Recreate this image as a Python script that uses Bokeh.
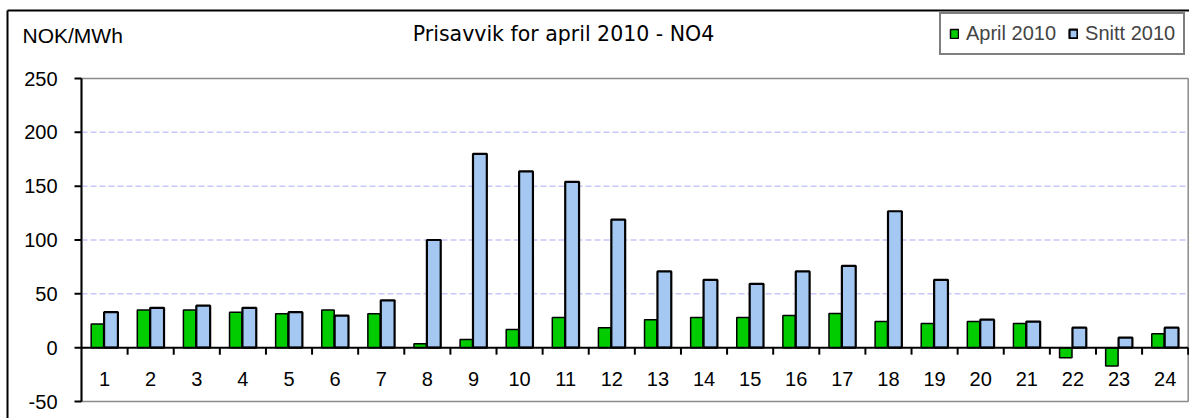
from bokeh.plotting import figure
from bokeh.models import ColumnDataSource, Legend, LegendItem, Label, Range1d
from bokeh.embed import file_html
from bokeh.resources import INLINE
from bokeh.core.properties import value

# ---- data ----
hours = list(range(1, 25))
hour_labels = [str(h) for h in hours]
april_2010 = [22, 35, 35, 33, 31.5, 35, 31.5, 3.7, 7.5, 16.8, 28, 18.6,
              26, 28, 28, 29.8, 31.7, 24.2, 22.4, 24.2, 22.4, -9.3, -17, 13]
snitt_2010 = [33, 37, 39, 37, 33, 29.8, 44, 100, 180, 163.7, 154, 119,
              70.8, 63, 59.3, 70.8, 76, 126.7, 63, 26, 24.2, 18.6, 9.3, 18.6]
y_ticks = [-50, 0, 50, 100, 150, 200, 250]
y_grid = [50, 100, 150, 200]
y_min, y_max = -50, 250

FONT = "Liberation Sans"
W, H = 1189, 418

# pixel geometry of the plot area inside the canvas
PA_L, PA_R, PA_T, PA_B = 81.0, 1187.7, 78.0, 401.0
n = len(hours)
x_lo, x_hi = 0.5, n + 0.5
PXX = (PA_R - PA_L) / (x_hi - x_lo)
PXY = (PA_B - PA_T) / (y_max - y_min)


def dx(px):
    return x_lo + (px - PA_L) / PXX


def dy(py):
    return y_max - (py - PA_T) / PXY


p = figure(width=W, height=H, output_backend="svg", toolbar_location=None,
           x_range=Range1d(dx(0), dx(W)), y_range=Range1d(dy(H), dy(0)),
           x_axis_location=None, y_axis_location=None, min_border=0)
p.outline_line_color = None
p.grid.visible = False
p.background_fill_color = "white"
p.border_fill_color = "white"

# outer chart border (only left and top edges fall inside the picture)
p.segment(x0=[dx(7), dx(7)], y0=[dy(10), dy(10)], x1=[dx(W + 20), dx(7)],
          y1=[dy(10), dy(H + 20)], line_color="black", line_width=2)

# plot-area border (grey)
p.quad(left=[x_lo], right=[x_hi], bottom=[y_min], top=[y_max], fill_color=None,
       line_color="#8c8c8c", line_width=1.5)

# gridlines
p.segment(x0=[x_lo] * len(y_grid), x1=[x_hi] * len(y_grid), y0=y_grid, y1=y_grid,
          line_color="#c8c8f8", line_width=1.5, line_dash="6 3")

src = ColumnDataSource(dict(
    x_green=[h - 0.155 for h in hours],
    x_blue=[h + 0.14 for h in hours],
    april=april_2010, snitt=snitt_2010,
))

r_green = p.vbar(x="x_green", top="april", bottom=0, width=0.27, source=src,
                 fill_color="#00cc00", line_color="black", line_width=1.5)
r_blue = p.vbar(x="x_blue", top="snitt", bottom=0, width=0.30, source=src,
                fill_color="#a4c8f2", line_color="black", line_width=2.2)

# y axis drawn by hand
tick_len = 7 / PXX
p.segment(x0=[x_lo], x1=[x_lo], y0=[y_min], y1=[y_max], line_color="black", line_width=2)
p.segment(x0=[x_lo - tick_len] * len(y_ticks), x1=[x_lo] * len(y_ticks),
          y0=y_ticks, y1=y_ticks, line_color="black", line_width=2)
p.text(x=[dx(57)] * len(y_ticks), y=y_ticks, text=[str(t) for t in y_ticks],
       text_align="right", text_baseline="middle", text_font=value(FONT),
       text_font_size="20px", text_color="black")

# zero line with category separators
p.segment(x0=[x_lo], x1=[x_hi], y0=[0], y1=[0], line_color="black", line_width=2)
bounds = [h + 0.5 for h in hours]
sep_len = 7 / PXY
p.segment(x0=bounds, x1=bounds, y0=[0] * n, y1=[-sep_len] * n,
          line_color="black", line_width=2)

# category labels
p.text(x=hours, y=[dy(378.5)] * n, text=hour_labels, text_align="center",
       text_baseline="middle", text_font=value(FONT), text_font_size="20px",
       text_color="black")

# texts above the plot area
p.add_layout(Label(x=dx(22), y=dy(35), text="NOK/MWh", text_font=FONT,
                   text_font_size="21px", text_baseline="middle", text_align="left",
                   text_color="black"))
p.add_layout(Label(x=dx(563), y=dy(33), text="Prisavvik for april 2010 - NO4",
                   text_font="DejaVu Sans", text_font_size="20.5px",
                   text_baseline="middle", text_align="center", text_color="black"))

legend = Legend(items=[LegendItem(label="April 2010", renderers=[r_green]),
                       LegendItem(label="Snitt 2010", renderers=[r_blue])],
                orientation="horizontal", location=(939, H - 55),
                label_text_font=FONT, label_text_font_size="20px",
                glyph_width=10, glyph_height=11, label_standoff=7, spacing=12,
                padding=8, margin=0, border_line_color="black", border_line_width=2,
                background_fill_alpha=1)
p.add_layout(legend, "center")

open("out.html", "w").write(file_html(p, INLINE))
